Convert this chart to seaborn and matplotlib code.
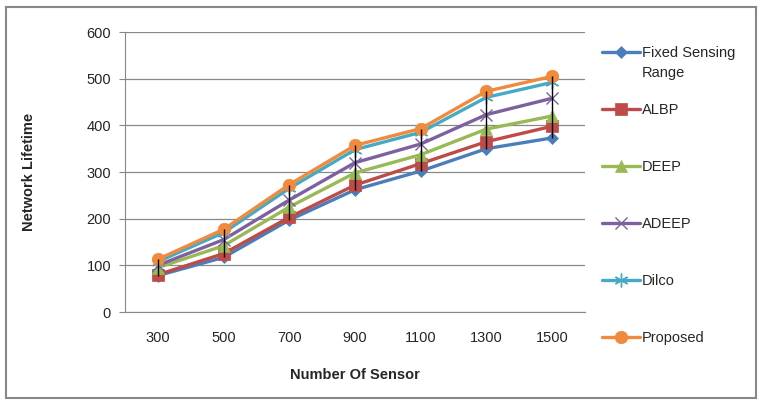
import numpy as np
import pandas as pd
import matplotlib
matplotlib.use("Agg")
import matplotlib.pyplot as plt
import seaborn as sns

sensors = ["300", "500", "700", "900", "1100", "1300", "1500"]
fixed = [78, 117, 197, 262, 302, 350, 373]
albp = [80, 125, 203, 272, 318, 365, 398]
deep = [95, 142, 225, 298, 337, 392, 420]
adeep = [100, 155, 240, 320, 360, 423, 458]
dilco = [108, 170, 265, 348, 385, 460, 492]
proposed = [113, 177, 273, 357, 393, 473, 505]

series = {
    "Fixed Sensing": fixed,
    "ALBP": albp,
    "DEEP": deep,
    "ADEEP": adeep,
    "Dilco": dilco,
    "Proposed": proposed,
}
colors = ["#4A7EBB", "#BE4B48", "#98B954", "#7D60A0", "#46AAC5", "#F08A3C"]
markers = ["D", "s", "^", "x", (6, 2, 0), "o"]
msizes = [6, 9, 9, 9, 10, 9]

sns.set_style("white")
plt.rcParams["font.family"] = ["Liberation Sans", "DejaVu Sans"]

fig = plt.figure(figsize=(7.62, 4.04), dpi=100)
ax = fig.add_axes([125 / 762, 1 - 312 / 404, 460 / 762, 280 / 404])

rows = []
for name, vals in series.items():
    for s, v in zip(sensors, vals):
        rows.append({"Sensors": s, "Lifetime": v, "Series": name})
df = pd.DataFrame(rows)
df["pos"] = df["Sensors"].map({s: i for i, s in enumerate(sensors)})

# high-low lines
hl = df.groupby("pos")["Lifetime"].agg(["min", "max"])
ax.vlines(hl.index, hl["min"], hl["max"], color="black", lw=1.0, zorder=5)

for (name, _), c, m, ms in zip(series.items(), colors, markers, msizes):
    sub = df[df["Series"] == name]
    sns.lineplot(data=sub, x="pos", y="Lifetime", ax=ax, color=c, marker=m,
                 markersize=ms, linewidth=2.4, label=name,
                 markeredgecolor=c, markeredgewidth=1.0 if m in ("x", (6, 2, 0)) else 0.5,
                 zorder=3)

ax.set_xlim(-0.5, 6.5)
ax.set_ylim(0, 600)
ax.set_yticks(range(0, 601, 100))
ax.set_xticks(range(len(sensors)))
ax.set_xticklabels(sensors)
ax.tick_params(axis="y", length=4, color="#888888", labelsize=10.5, pad=6, left=True)
ax.tick_params(axis="x", length=0, labelsize=10.5, pad=14)
ax.yaxis.grid(True, color="#888888", lw=0.9)
ax.xaxis.grid(False)
for sp in ["top", "right"]:
    ax.spines[sp].set_visible(False)
for sp in ["left", "bottom"]:
    ax.spines[sp].set_color("#888888")
ax.set_xlabel("Number Of Sensor", fontsize=10.5, fontweight="bold", labelpad=16)
ax.set_ylabel("Network Lifetime", fontsize=10.5, fontweight="bold", labelpad=36)

leg = ax.legend(loc="upper left", bbox_to_anchor=(1.025, 0.971), frameon=False,
                fontsize=10.5, labelspacing=2.95, handlelength=2.6, handletextpad=0.1,
                borderaxespad=0)

# second line of the first legend entry (Excel wraps it under the handle row)
fig.canvas.draw()
t0 = leg.get_texts()[0]
bb = t0.get_window_extent().transformed(fig.transFigure.inverted())
fig.text(bb.x0, bb.y0 - 20 / 404, "Range", fontsize=10.5, va="bottom", ha="left")

fig.patches.append(plt.Rectangle((6 / 762, 6 / 404), 750 / 762, 391 / 404,
                                 transform=fig.transFigure, fill=False,
                                 edgecolor="#888888", lw=1.5))

fig.savefig("out.png", dpi=100)
